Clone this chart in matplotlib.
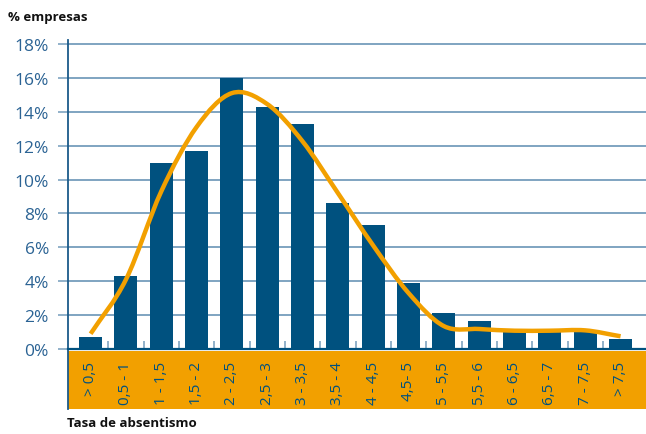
import matplotlib
matplotlib.use("Agg")
import matplotlib.pyplot as plt
import numpy as np
from matplotlib.path import Path
from matplotlib.patches import PathPatch, Rectangle

categories = ["> 0,5", "0,5 - 1", "1 - 1,5", "1,5 - 2", "2 - 2,5", "2,5 - 3", "3 - 3,5",
              "3,5 - 4", "4 - 4,5", "4,5- 5", "5 - 5,5", "5,5 - 6", "6 - 6,5", "6,5 - 7",
              "7 - 7,5", "> 7,5"]
bar_values = [0.7, 4.3, 11.0, 11.7, 16.0, 14.3, 13.3, 8.6, 7.3, 3.9, 2.1, 1.65, 1.18, 1.18, 1.0, 0.6]
curve_values = [0.9, 4.1, 9.3, 13.1, 15.1, 14.45, 12.25, 9.2, 6.1, 3.3, 1.35, 1.18, 1.08, 1.08, 1.1, 0.75]
y_ticks = [0, 2, 4, 6, 8, 10, 12, 14, 16, 18]
y_title = "% empresas"
x_title = "Tasa de absentismo"

BLUE = "#00517F"
ORANGE = "#F2A000"
GRID = "#7FA4C1"
TICKTXT = "#2B6394"

plt.rcParams['font.family'] = ['Open Sans', 'DejaVu Sans']

W, H = 646, 435
fig = plt.figure(figsize=(W / 100, H / 100), dpi=100)
ax_left, ax_bottom_px, ax_top_px = 68, 350, 40.7
ax = fig.add_axes([ax_left / W, 1 - ax_bottom_px / H, (W - ax_left) / W, (ax_bottom_px - ax_top_px) / H])

x = np.arange(len(categories))
ax.bar(x, bar_values, width=0.65, color=BLUE, zorder=3)

# smooth curve (Catmull-Rom -> cubic Bezier) through the curve values
pts = np.column_stack([x, curve_values]).astype(float)
verts = [pts[0]]
codes = [Path.MOVETO]
n = len(pts)
for i in range(n - 1):
    p0 = pts[i - 1] if i > 0 else 2 * pts[0] - pts[1]
    p1 = pts[i]
    p2 = pts[i + 1]
    p3 = pts[i + 2] if i + 2 < n else 2 * pts[-1] - pts[-2]
    c1 = p1 + (p2 - p0) / 6.0
    c2 = p2 - (p3 - p1) / 6.0
    verts += [c1, c2, p2]
    codes += [Path.CURVE4] * 3
ax.add_patch(PathPatch(Path(verts, codes), fill=False, edgecolor=ORANGE, lw=3.2,
                       capstyle='butt', joinstyle='round', zorder=4))

ax.set_xlim(-0.64, 15.72)
ax.set_ylim(0, 18.25)
ax.set_yticks(y_ticks)
ax.set_yticklabels([f"{v}%" for v in y_ticks])
ax.yaxis.grid(True, color=GRID, lw=1.4)
ax.set_axisbelow(True)
ax.tick_params(axis='y', direction='out', length=7.2, width=1.2, color=GRID,
               labelcolor=TICKTXT, labelsize=12.5, pad=6.5)

ax.set_xticks(x)
ax.set_xticklabels(categories, rotation=90, fontsize=11, color=BLUE)
ax.tick_params(axis='x', which='major', length=0, pad=8.6)
ax.set_xticks(x[:-1] + 0.5, minor=True)
ax.tick_params(axis='x', which='minor', direction='in', length=6, width=1.2, color=GRID)

for s in ['top', 'right']:
    ax.spines[s].set_visible(False)
ax.spines['left'].set_color("#1B5A8A")
ax.spines['left'].set_linewidth(1.3)
ax.spines['bottom'].set_color(BLUE)
ax.spines['bottom'].set_linewidth(1.6)
ax.spines['bottom'].set_zorder(5)

# orange band below the axis (in axes coordinates, outside the plot area)
ax_h_px = ax_bottom_px - ax_top_px
band = Rectangle((0, -(410 - ax_bottom_px) / ax_h_px), 1.0, (410 - 351.5) / ax_h_px,
                 transform=ax.transAxes, facecolor=ORANGE, edgecolor='none',
                 clip_on=False, zorder=0.1)
ax.add_patch(band)
# left axis line extended through the band
ax.plot([0, 0], [0, -(410 - ax_bottom_px) / ax_h_px], transform=ax.transAxes,
        color="#1B5A8A", lw=1.3, clip_on=False, zorder=0.2)

fig.text(8 / W, 1 - 18 / H, y_title, fontsize=9.5, fontweight='bold', color='#111111', va='center', ha='left')
fig.text(67 / W, 1 - 424 / H, x_title, fontsize=9.5, fontweight='bold', color='#111111', va='center', ha='left')

fig.savefig("out.png", dpi=100)
